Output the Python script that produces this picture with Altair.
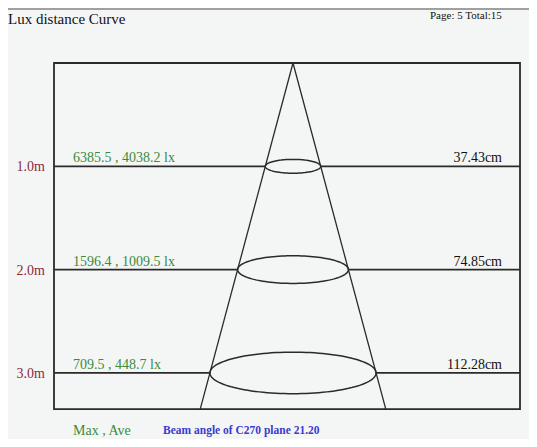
import math
import numpy as np
import pandas as pd
import altair as alt

# ---- data ----
distances_m = [1.0, 2.0, 3.0]
dist_labels = ["1.0m", "2.0m", "3.0m"]
lux_labels = ["6385.5 , 4038.2 lx", "1596.4 , 1009.5 lx", "709.5 , 448.7 lx"]
diam_labels = ["37.43cm", "74.85cm", "112.28cm"]
beam_angle = 21.20
bottom_m = 3.35

# ---- layout (scales) ----
W, H = 521, 431
px_per_cm = 1.48
px_per_m = 103.3
x_dom = [-285 / px_per_cm, (W - 285) / px_per_cm]
y_dom = [-55 / px_per_m, (H - 55) / px_per_m]
box_left = (54 - 293) / px_per_cm
box_right = (520 - 293) / px_per_cm

xs = alt.Scale(domain=x_dom, nice=False, zero=False)
ys = alt.Scale(domain=y_dom, nice=False, zero=False, reverse=True)
X = lambda f: alt.X(f, scale=xs, axis=None)
Y = lambda f: alt.Y(f, scale=ys, axis=None)

def radius(d):
    return d * math.tan(math.radians(beam_angle / 2)) * 100

base_df = pd.DataFrame({
    "d": distances_m, "r": [radius(d) for d in distances_m],
    "dist": dist_labels, "lux": lux_labels, "diam": diam_labels,
})
base_df["nr"] = -base_df["r"]
base_df["bl"] = box_left
base_df["br"] = box_right
base_df["tx_lux"] = (73 - 293) / px_per_cm
base_df["tx_dist"] = (45 - 293) / px_per_cm
base_df["tx_diam"] = (502 - 293) / px_per_cm

LC = "#2a2a2a"
box = alt.Chart(pd.DataFrame({"x": [box_left], "x2": [box_right], "y": [0.0], "y2": [bottom_m]})).mark_rect(
    filled=False, stroke=LC, strokeWidth=1.8).encode(x=X("x:Q"), x2="x2", y=Y("y:Q"), y2="y2")

left_rules = alt.Chart(base_df).mark_rule(color=LC, strokeWidth=1.8).encode(
    x=X("bl:Q"), x2="nr", y=Y("d:Q"))
right_rules = alt.Chart(base_df).mark_rule(color=LC, strokeWidth=1.8).encode(
    x=X("r:Q"), x2="br", y=Y("d:Q"))

rb = radius(bottom_m)
cone_df = pd.DataFrame({"x": [0, -rb, 0, rb], "y": [0, bottom_m, 0, bottom_m], "side": ["L", "L", "R", "R"]})
cone = alt.Chart(cone_df).mark_line(color=LC, strokeWidth=1.3).encode(
    x=X("x:Q"), y=Y("y:Q"), detail="side:N")

rows = []
t = np.linspace(0, 2 * np.pi, 121)
for d in distances_m:
    r = radius(d)
    ry = 0.25 * px_per_cm * r / px_per_m
    for i, tt in enumerate(t):
        rows.append({"d": d, "i": i, "x": r * np.cos(tt), "y": d + ry * np.sin(tt)})
ell = alt.Chart(pd.DataFrame(rows)).mark_line(color=LC, strokeWidth=1.5).encode(
    x=X("x:Q"), y=Y("y:Q"), detail="d:N", order="i:Q")

font = "Liberation Serif"
t_dist = alt.Chart(base_df).mark_text(font=font, fontSize=14, color="#8b2a3a", align="right", baseline="middle", dy=1).encode(
    x=X("tx_dist:Q"), y=Y("d:Q"), text="dist:N")
t_lux = alt.Chart(base_df).mark_text(font=font, fontSize=14, color="#3c8a3c", align="left", baseline="alphabetic", dy=-4).encode(
    x=X("tx_lux:Q"), y=Y("d:Q"), text="lux:N")
t_diam = alt.Chart(base_df).mark_text(font=font, fontSize=14, color="#111111", align="right", baseline="alphabetic", dy=-4).encode(
    x=X("tx_diam:Q"), y=Y("d:Q"), text="diam:N")

title = alt.Chart(pd.DataFrame({"t": ["Lux distance Curve"]})).mark_text(
    font=font, fontSize=15, color="#111111", align="left", baseline="middle").encode(
    x=alt.value(0), y=alt.value(11), text="t:N")
page = alt.Chart(pd.DataFrame({"t": ["Page: 5  Total:15"]})).mark_text(
    font=font, fontSize=11, color="#111111", align="left", baseline="middle").encode(
    x=alt.value(422), y=alt.value(8), text="t:N")
maxave = alt.Chart(pd.DataFrame({"t": ["Max , Ave"]})).mark_text(
    font=font, fontSize=14, color="#3c8a3c", align="left", baseline="middle").encode(
    x=alt.value(65), y=alt.value(423), text="t:N")
beam = alt.Chart(pd.DataFrame({"t": [f"Beam angle of C270 plane {beam_angle:.2f}"]})).mark_text(
    font=font, fontSize=11.5, fontWeight="bold", color="#3a3ad0", align="left", baseline="middle").encode(
    x=alt.value(155), y=alt.value(423), text="t:N")
topbar = alt.Chart(pd.DataFrame({"a": [0]})).mark_rule(color="#a0a0a0", strokeWidth=2).encode(
    x=alt.value(0), x2=alt.value(W), y=alt.value(1))

chart = alt.layer(topbar, box, left_rules, right_rules, cone, ell, t_dist, t_lux, t_diam, title, page, maxave, beam).properties(
    width=W, height=H, padding=0, autosize=alt.AutoSizeParams(type="none"), background="#f4f6f6"
).configure_view(stroke=None)

chart.save("out.html", embed_options={"renderer": "svg", "actions": False})
